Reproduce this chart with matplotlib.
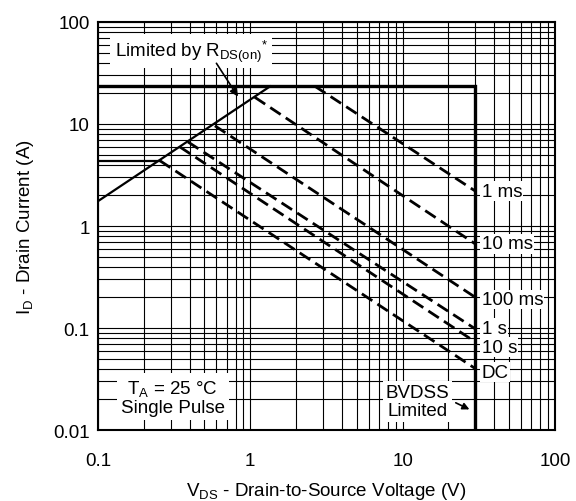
import numpy as np
import matplotlib.pyplot as plt

plt.rcParams['font.family'] = 'Liberation Sans'
plt.rcParams['mathtext.fontset'] = 'custom'
plt.rcParams['mathtext.rm'] = 'Liberation Sans'
plt.rcParams['mathtext.it'] = 'Liberation Sans'

# Safe operating area data
curve_labels = ['1 ms', '10 ms', '100 ms', '1 s', '10 s', 'DC']
v_start = [2.66, 1.07, 0.586, 0.39, 0.345, 0.255]
i_start = [23.4, 18.3, 9.6, 6.67, 5.96, 4.37]
v_end = [30, 30, 30, 30, 30, 30]
i_end = [2.2, 0.667, 0.2, 0.098, 0.073, 0.04]
label_i = [2.2, 0.667, 0.19, 0.10, 0.065, 0.037]

# R_DS(on) limit line
rds_v = [0.1, 1.35]
rds_i = [1.75, 23.4]

# current limits / BVDSS limit
imax_v = [0.1, 30, 30]
imax_i = [23.4, 23.4, 0.01]
idc_v = [0.1, 0.255]
idc_i = [4.37, 4.37]

fs = 13.5

fig = plt.figure(figsize=(5.76, 5.02), dpi=100)
ax = fig.add_axes([0.170, 0.1414, 0.7935, 0.8128])
ax.set_xscale('log')
ax.set_yscale('log')
ax.set_xlim(0.1, 100)
ax.set_ylim(0.01, 100)

ax.grid(True, which='both', color='black', linewidth=0.8)
ax.set_axisbelow(True)
for s in ax.spines.values():
    s.set_linewidth(1.5)

ax.plot(imax_v, imax_i, color='black', linewidth=2.4, solid_joinstyle='miter')
ax.plot(idc_v, idc_i, color='black', linewidth=1.6)
ax.plot(rds_v, rds_i, color='black', linewidth=1.6)

for k in range(len(curve_labels)):
    ax.plot([v_start[k], v_end[k]], [i_start[k], i_end[k]], color='black',
            linewidth=2.0, dashes=(4.5, 2.2))
    ax.text(33, label_i[k], curve_labels[k], fontsize=fs, ha='left', va='center',
            bbox=dict(facecolor='white', edgecolor='none', pad=1.0))

ax.set_xticks([0.1, 1, 10, 100])
ax.set_xticklabels(['0.1', '1', '10', '100'])
ax.set_yticks([0.01, 0.1, 1, 10, 100])
ax.set_yticklabels(['0.01', '0.1', '1', '10', '100'])
ax.tick_params(which='both', length=0, labelsize=fs)
ax.tick_params(axis='x', pad=16)
ax.tick_params(axis='y', pad=6)

ax.text(0.41, 52, r'Limited by R$_{\mathrm{DS(on)}}$$^{\mathrm{*}}$', fontsize=fs, ha='center', va='center',
        bbox=dict(facecolor='white', edgecolor='none', pad=3.0))
ax.annotate('', xy=(0.85, 17.6), xytext=(0.586, 41.5),
            arrowprops=dict(arrowstyle='-|>', color='black', lw=1.2, mutation_scale=12))

ax.text(0.31, 0.021, 'T$_\\mathrm{A}$ = 25 °C\nSingle Pulse', fontsize=fs, ha='center', va='center',
        linespacing=1.1, bbox=dict(facecolor='white', edgecolor='none', pad=3.0))

ax.text(12.5, 0.019, 'BVDSS\nLimited', fontsize=fs, ha='center', va='center',
        linespacing=1.1, bbox=dict(facecolor='white', edgecolor='none', pad=2.0))
ax.annotate('', xy=(28.5, 0.0155), xytext=(21.5, 0.019),
            arrowprops=dict(arrowstyle='-|>', color='black', lw=1.2, mutation_scale=10))

ax.set_xlabel('V$_\\mathrm{DS}$ - Drain-to-Source Voltage (V)', fontsize=fs, labelpad=8)
ax.set_ylabel('I$_\\mathrm{D}$ - Drain Current (A)', fontsize=fs, labelpad=12)

fig.savefig('out.png', dpi=100)
